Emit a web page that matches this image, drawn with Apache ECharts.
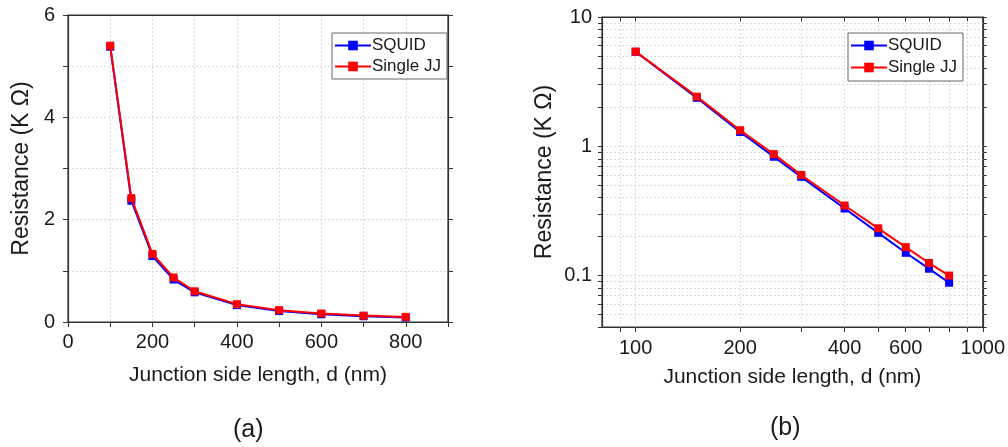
<!DOCTYPE html>
<html><head><meta charset="utf-8">
<script src="https://cdn.jsdelivr.net/npm/echarts@6/dist/echarts.min.js"></script>
<style>html,body{margin:0;padding:0;background:#fff}#c{width:1008px;height:447px}</style>
</head><body><div id="c"></div>
<script>
const sizes = [100, 150, 200, 250, 300, 400, 500, 600, 700, 800];
const squid = [5.38, 2.37, 1.29, 0.83, 0.58, 0.33, 0.214, 0.150, 0.113, 0.088];
const singleJJ = [5.40, 2.42, 1.33, 0.87, 0.60, 0.348, 0.232, 0.166, 0.125, 0.100];
const seriesNames = ['SQUID', 'Single JJ'];
const logXLabels = [100, 200, 400, 600, 1000];
const logXTicks = [90, 100, 200, 300, 400, 500, 600, 700, 800, 900, 1000];
const logYLabels = [0.1, 1, 10];
const logYTicks = [0.04,0.05,0.06,0.07,0.08,0.09,0.1,0.2,0.3,0.4,0.5,0.6,0.7,0.8,0.9,1,2,3,4,5,6,7,8,9,10];

const FONT = 'Liberation Sans, Arial, sans-serif';
const TXT = '#1a1a1a';
const AX = '#333';
const pairs = (ys) => sizes.map((x, i) => [x, ys[i]]);
const grid = (g) => Object.assign({show: true, borderColor: AX, borderWidth: 1.2, backgroundColor: 'transparent'}, g);
const gridLine = {show: true, lineStyle: {color: '#dadada', type: [2, 2], width: 1}};
const lbl = {color: TXT, fontSize: 20, fontFamily: FONT};
const xNameStyle = {color: TXT, fontSize: 21, fontFamily: FONT};
const yNameStyle = {color: TXT, fontSize: 23, fontFamily: FONT};
const axLine = {show: true, onZero: false, lineStyle: {color: AX, width: 1.2}};

function lineSeries(name, data, color, xi, yi) {
  return {
    type: 'line', name, data, xAxisIndex: xi, yAxisIndex: yi,
    symbol: 'rect', symbolSize: 8, showSymbol: true,
    lineStyle: {color, width: 2}, itemStyle: {color},
    z: name === 'Single JJ' ? 3 : 2, animation: false
  };
}

const chart = echarts.init(document.getElementById('c'), null, {renderer: 'canvas'});
chart.setOption({
  animation: false,
  grid: [
    grid({left: 68, right: 560, top: 15, bottom: 125}),
    grid({left: 602, right: 24, top: 17, bottom: 120})
  ],
  xAxis: [
    {type: 'value', gridIndex: 0, min: 0, max: 900, interval: 100,
     name: 'Junction side length, d (nm)', nameLocation: 'middle', nameGap: 43, nameTextStyle: xNameStyle,
     axisLine: axLine,
     axisTick: {show: true, length: 5, lineStyle: {color: AX}},
     axisLabel: Object.assign({margin: 10, formatter: v => (v % 200 === 0 && v <= 800) ? String(v) : ''}, lbl),
     splitLine: gridLine},
    {type: 'log', gridIndex: 1, min: 80, max: 1000, logBase: 10,
     name: 'Junction side length, d (nm)', nameLocation: 'middle', nameGap: 40, nameTextStyle: xNameStyle,
     axisLine: axLine,
     axisTick: {show: true, length: 5, customValues: logXTicks, lineStyle: {color: AX}},
     axisLabel: Object.assign({margin: 11, customValues: logXLabels, formatter: v => String(Math.round(v))}, lbl),
     splitLine: gridLine},
    {type: 'log', gridIndex: 1, min: 80, max: 1000, logBase: 10, position: 'top',
     axisLine: axLine,
     axisTick: {show: true, inside: true, length: 4, customValues: logXTicks, lineStyle: {color: AX}},
     axisLabel: {show: false}, splitLine: {show: false}},
    {type: 'value', gridIndex: 0, min: 0, max: 900, interval: 100, position: 'top',
     axisLine: axLine, axisTick: {show: false}, axisLabel: {show: false}, splitLine: {show: false}}
  ],
  yAxis: [
    {type: 'value', gridIndex: 0, min: 0, max: 6, interval: 1,
     name: 'Resistance (K Ω)', nameLocation: 'middle', nameGap: 35, nameTextStyle: yNameStyle,
     axisLine: axLine,
     axisTick: {show: true, length: 5, lineStyle: {color: AX}},
     axisLabel: Object.assign({margin: 13, formatter: v => (v % 2 === 0) ? String(v) : ''}, lbl),
     splitLine: gridLine},
    {type: 'value', gridIndex: 0, min: 0, max: 6, interval: 1, position: 'right',
     axisLine: axLine,
     axisTick: {show: true, length: 5, lineStyle: {color: AX}},
     axisLabel: {show: false}, splitLine: {show: false}},
    {type: 'log', gridIndex: 1, min: 0.04, max: 10, logBase: 10,
     name: 'Resistance (K Ω)', nameLocation: 'middle', nameGap: 46, nameTextStyle: yNameStyle,
     axisLine: axLine,
     axisTick: {show: true, length: 4, customValues: logYTicks, lineStyle: {color: AX}},
     axisLabel: Object.assign({margin: 10, customValues: logYLabels, formatter: v => String(+v.toPrecision(3))}, lbl),
     splitLine: gridLine},
    {type: 'log', gridIndex: 1, min: 0.04, max: 10, logBase: 10, position: 'right',
     axisLine: axLine,
     axisTick: {show: true, length: 4, customValues: logYTicks, lineStyle: {color: AX}},
     axisLabel: {show: false}, splitLine: {show: false}}
  ],
  legend: [
    {data: seriesNames, left: 332, top: 33, orient: 'vertical', itemGap: 4, itemWidth: 36, itemHeight: 12,
     padding: [4, 6, 4, 2], borderColor: '#666', borderWidth: 1, backgroundColor: '#fff',
     textStyle: {color: TXT, fontSize: 17, fontFamily: FONT, padding: [0, 0, 0, -4]}},
    {data: seriesNames, left: 848, top: 33, orient: 'vertical', itemGap: 5, itemWidth: 36, itemHeight: 12,
     padding: [4, 6, 5, 2], borderColor: '#666', borderWidth: 1, backgroundColor: '#fff',
     textStyle: {color: TXT, fontSize: 17, fontFamily: FONT, padding: [0, 0, 0, -4]}}
  ],
  graphic: [
    {type: 'text', left: 233, top: 418, style: {text: '(a)', fill: TXT, font: '25px ' + FONT}},
    {type: 'text', left: 770, top: 416, style: {text: '(b)', fill: TXT, font: '25px ' + FONT}}
  ],
  series: [
    lineSeries('SQUID', pairs(squid), '#0000ff', 0, 0),
    lineSeries('Single JJ', pairs(singleJJ), '#ff0000', 0, 0),
    lineSeries('SQUID', pairs(squid), '#0000ff', 1, 2),
    lineSeries('Single JJ', pairs(singleJJ), '#ff0000', 1, 2)
  ]
});
</script></body></html>
